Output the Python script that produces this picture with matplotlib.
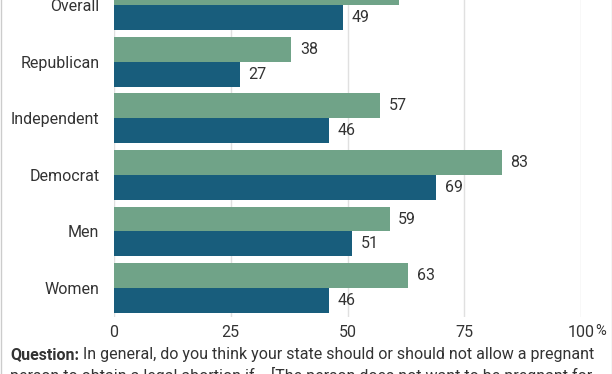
import matplotlib
matplotlib.use("Agg")
import matplotlib.pyplot as plt
from matplotlib.lines import Line2D
import numpy as np

plt.rcParams['font.family'] = ['Roboto', 'DejaVu Sans']

categories = ["Overall", "Republican", "Independent", "Democrat", "Men", "Women"]
series_green = [61, 38, 57, 83, 59, 63]
series_blue = [49, 27, 46, 69, 51, 46]
x_ticks = [0, 25, 50, 75, 100]
x_tick_labels = ["0", "25", "50", "75", "100"]
question_bold = "Question:"
question_rest = " In general, do you think your state should or should not allow a pregnant"
question_line2 = "person to obtain a legal abortion if... [The person does not want to be pregnant for"

GREEN = "#70a388"
BLUE = "#185d7c"
TEXT = "#333333"
GRID = "#e0e0e0"
FS = 11.5

W, H = 612, 374
fig = plt.figure(figsize=(W / 100, H / 100), dpi=100)
ax = fig.add_axes([114 / W, 1 - 317 / H, 467 / W, 317 / H])

pos = np.arange(len(categories))
bh = 0.44
ax.barh(pos - bh / 2, series_green, height=bh, color=GREEN, zorder=3)
ax.barh(pos + bh / 2, series_blue, height=bh, color=BLUE, zorder=3)

for p, g, b in zip(pos, series_green, series_blue):
    ax.annotate(str(g), (g, p - bh / 2), xytext=(6, 0), textcoords="offset points",
                va="center", ha="left", fontsize=FS, color=TEXT)
    ax.annotate(str(b), (b, p + bh / 2), xytext=(6, 0), textcoords="offset points",
                va="center", ha="left", fontsize=FS, color=TEXT)

ax.set_xlim(0, 100)
ax.set_ylim(5.51, -0.088)
ax.set_yticks(pos)
ax.set_yticklabels(categories, fontsize=FS, color=TEXT)
ax.set_xticks(x_ticks)
ax.set_xticklabels(x_tick_labels, fontsize=FS, color=TEXT)
ax.tick_params(axis="both", length=0)
ax.tick_params(axis="y", pad=10.5)
ax.tick_params(axis="x", pad=6)
for s in ax.spines.values():
    s.set_visible(False)
ax.xaxis.grid(True, color=GRID, lw=1, zorder=0)
ax.set_axisbelow(True)

# figure border lines
fig.add_artist(Line2D([0.5 / W, 0.5 / W], [0, 1], transform=fig.transFigure, color="#cccccc", lw=1))
fig.add_artist(Line2D([1 - 0.5 / W, 1 - 0.5 / W], [0, 1], transform=fig.transFigure, color="#cccccc", lw=1))

fig.canvas.draw()
r = fig.canvas.get_renderer()

# percent sign right after the "100" tick label, slightly raised
lab100 = ax.get_xticklabels()[-1]
bb100 = lab100.get_window_extent(r)
fig.text(bb100.x1 / W + 0.5 / W, bb100.y1 / H + 1.5 / H, "%", fontsize=10.5, color=TEXT,
         ha="left", va="top")

y1 = 1 - 355 / H
t1 = fig.text(10 / W, y1, question_bold, fontsize=FS, fontweight="bold", color=TEXT, va="center", ha="left")
fig.canvas.draw()
bb = t1.get_window_extent(r)
fig.text(bb.x1 / W, y1, question_rest, fontsize=FS, color=TEXT, va="center", ha="left")
fig.text(10 / W, 1 - 375.5 / H, question_line2, fontsize=FS, color=TEXT, va="center", ha="left")

fig.savefig("out.png", dpi=100)
